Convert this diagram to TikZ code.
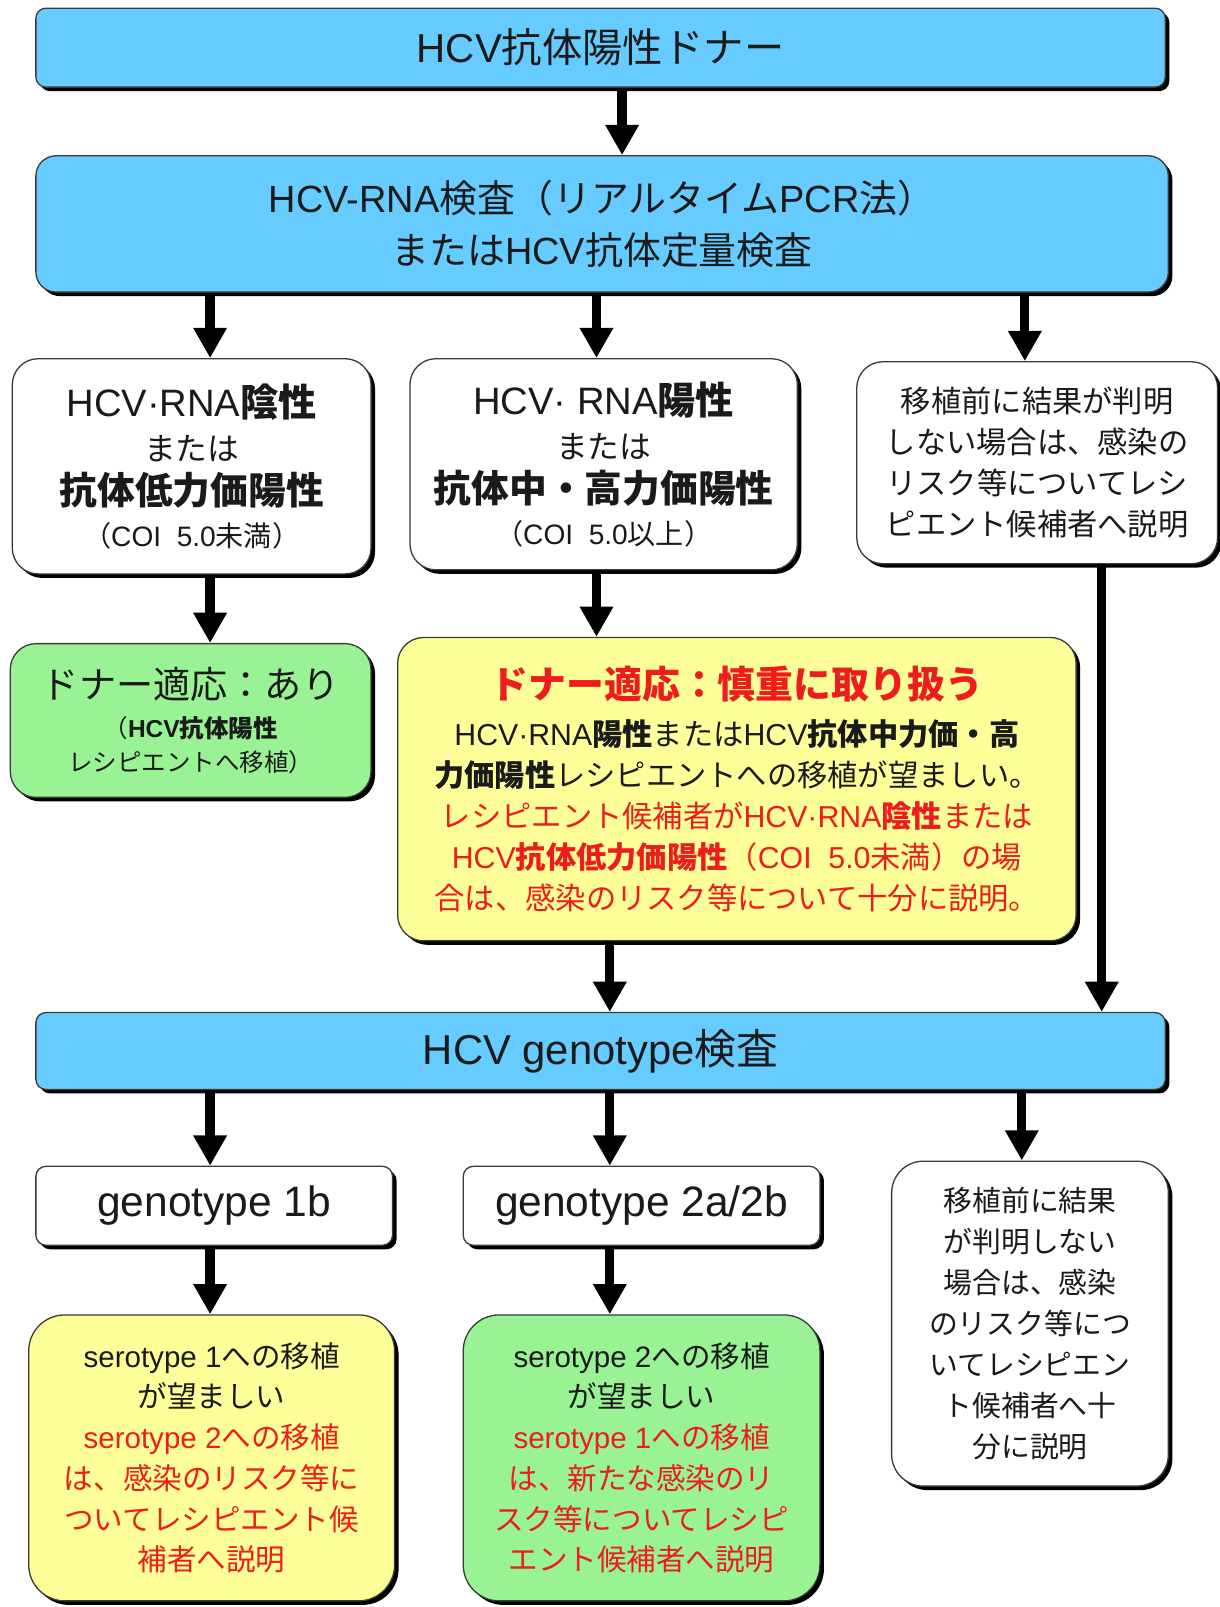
\documentclass[tikz,border=0pt]{standalone}
\usepackage{fontspec}
\setmainfont{Noto Sans CJK JP}
\newfontfamily\lsfont{Liberation Sans}
\newcommand{\LS}[1]{{\lsfont #1}}
\usetikzlibrary{shadows,arrows.meta}
\definecolor{cblue}{HTML}{66CCFF}
\definecolor{cgreen}{HTML}{99F294}
\definecolor{cyellow}{HTML}{FFFF99}
\definecolor{cred}{HTML}{EE1C1C}
\definecolor{cborder}{HTML}{3A3A3A}
\definecolor{ctext}{HTML}{1A1A1A}
\newcommand{\fs}[2]{\fontsize{#1pt}{#2pt}\selectfont}
\begin{document}
\begin{tikzpicture}[x=0.025cm,y=-0.025cm,
  box/.style={draw=cborder, line width=0.9pt, inner sep=0pt, align=center, text=ctext,
    drop shadow={shadow xshift=2.8pt, shadow yshift=-2.8pt, fill=black, opacity=1}},
  bx/.style n args={4}{at={({(#1+#3)/2},{(#2+#4)/2})},
    minimum width={(#3-#1)*0.025cm}, minimum height={(#4-#2)*0.025cm}},
  bluebox/.style={box, fill=cblue},
  whitebox/.style={box, fill=white},
  greenbox/.style={box, fill=cgreen},
  yellowbox/.style={box, fill=cyellow},
  arr/.style={draw=black, line width=6.4pt, -{Triangle[width=22pt,length=21pt]}},
]
\useasboundingbox (0,0) rectangle (1190,1568);
\fill[white] (0,0) rectangle (1190,1568);

\node[bluebox, rounded corners=7pt, bx={35}{8}{1137}{85}, font=\fs{28}{34}] (top) {\LS{HCV}抗体陽性ドナー};

\node[bluebox, rounded corners=14pt, bx={35}{152}{1140}{285}, font=\fs{26.3}{35.6}] (rna)
  {\LS{HCV-RNA}検査（リアルタイム\LS{PCR}法）\\または\LS{HCV}抗体定量検査};

\node[whitebox, rounded corners=18pt, bx={12}{350}{362}{560}, font=\fs{21}{30.8}] (A)
  {{\fs{26.5}{30.8}\LS{HCV·RNA}\textbf{陰性}}\\
   {\fs{22}{30.8}または}\\
   {\fs{26.2}{30.8}\bfseries 抗体低力価陽性}\\[-2pt]
   {\fs{19.5}{30.8}（\LS{COI\ \ 5.0}未満）}};

\node[whitebox, rounded corners=18pt, bx={400}{350}{778}{556}, font=\fs{21}{30.8}] (B)
  {{\fs{26.5}{30.8}\LS{HCV· RNA}\textbf{陽性}}\\
   {\fs{22}{30.8}または}\\
   {\fs{26.2}{30.8}\bfseries 抗体中・高力価陽性}\\[-2pt]
   {\fs{19.5}{30.8}（\LS{COI\ \ 5.0}以上）}};

\node[whitebox, rounded corners=18pt, bx={836}{353}{1188}{550}, font=\fs{21}{28.5}] (C)
  {移植前に結果が判明\\しない場合は、感染の\\リスク等についてレシ\\ピエント候補者へ説明};

\node[greenbox, rounded corners=18pt, bx={10}{628}{362}{778}, font=\fs{17}{23.5}] (D)
  {{\fs{25.8}{23.5}ドナー適応：あり}\\[4.2pt]
   （\textbf{\LS{HCV}抗体陽性}\\
   レシピエントへ移植）};

\node[yellowbox, rounded corners=18pt, bx={388}{622}{1050}{918}, font=\fs{21}{28.5}] (E)
  {{\fs{26.3}{28.5}\bfseries\color{cred}ドナー適応：慎重に取り扱う}\\[4.2pt]
   \LS{HCV·RNA}\textbf{陽性}または\LS{HCV}\textbf{抗体中力価・高}\\
   \textbf{力価陽性}レシピエントへの移植が望ましい。\\
   {\color{cred}レシピエント候補者が\LS{HCV·RNA}\textbf{陰性}または}\\
   {\color{cred}\LS{HCV}\textbf{抗体低力価陽性}（\LS{COI\ \ 5.0}未満）の場}\\
   {\color{cred}合は、感染のリスク等について十分に説明。}};

\node[bluebox, rounded corners=7pt, bx={35}{988}{1137}{1063}, font=\fs{29}{34}] (F) {\LS{HCV genotype}検査};

\node[whitebox, rounded corners=7pt, bx={35}{1138}{383}{1215}, font=\fs{29.5}{34}] (G) {\LS{genotype 1b}};
\node[whitebox, rounded corners=7pt, bx={452}{1138}{800}{1215}, font=\fs{29.5}{34}] (H) {\LS{genotype 2a/2b}};

\node[whitebox, rounded corners=22pt, bx={870}{1133}{1140}{1450}, font=\fs{20}{28.5}] (I)
  {移植前に結果\\が判明しない\\場合は、感染\\のリスク等につ\\いてレシピエン\\ト候補者へ十\\分に説明};

\node[yellowbox, rounded corners=25pt, bx={28}{1283}{385}{1562}, font=\fs{20.5}{28.3}] (J)
  {\LS{serotype 1}への移植\\が望ましい\\
   {\color{cred}\LS{serotype 2}への移植}\\
   {\color{cred}は、感染のリスク等に}\\
   {\color{cred}ついてレシピエント候}\\
   {\color{cred}補者へ説明}};

\node[greenbox, rounded corners=25pt, bx={452}{1283}{800}{1562}, font=\fs{20.5}{28.3}] (K)
  {\LS{serotype 2}への移植\\が望ましい\\
   {\color{cred}\LS{serotype 1}への移植}\\
   {\color{cred}は、新たな感染のリ}\\
   {\color{cred}スク等についてレシピ}\\
   {\color{cred}エント候補者へ説明}};

\coordinate (xTop) at (607,0);
\coordinate (xL) at (205,0);
\coordinate (xM1) at (582,0);
\coordinate (xR1) at (1000,0);
\coordinate (xM2) at (595,0);
\coordinate (xC) at (1075,0);
\coordinate (xR2) at (997,0);

\draw[arr] (top.south -| xTop) -- (rna.north -| xTop);
\draw[arr] (rna.south -| xL) -- (A.north -| xL);
\draw[arr] (rna.south -| xM1) -- (B.north -| xM1);
\draw[arr] (rna.south -| xR1) -- (C.north -| xR1);
\draw[arr] (A.south -| xL) -- (D.north -| xL);
\draw[arr] (B.south -| xM1) -- (E.north -| xM1);
\draw[arr] (E.south -| xM2) -- (F.north -| xM2);
\draw[arr] (C.south -| xC) -- (F.north -| xC);
\draw[arr] (F.south -| xL) -- (G.north -| xL);
\draw[arr] (F.south -| xM2) -- (H.north -| xM2);
\draw[arr] (F.south -| xR2) -- (I.north -| xR2);
\draw[arr] (G.south -| xL) -- (J.north -| xL);
\draw[arr] (H.south -| xM2) -- (K.north -| xM2);
\end{tikzpicture}
\end{document}
